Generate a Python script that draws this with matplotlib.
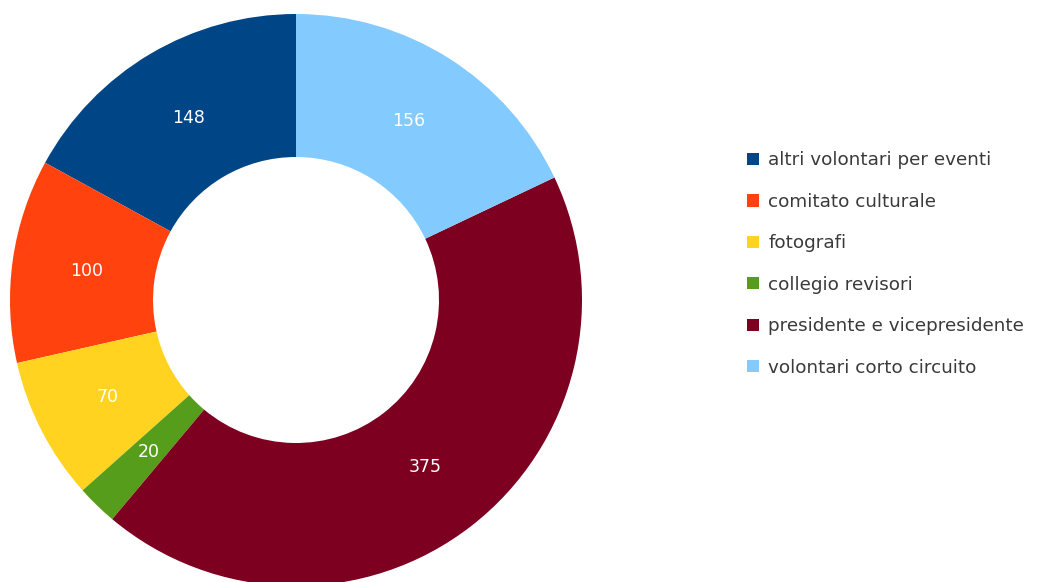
import matplotlib
matplotlib.use("Agg")
import matplotlib.pyplot as plt
import numpy as np

categories = ["altri volontari per eventi", "comitato culturale", "fotografi",
              "collegio revisori", "presidente e vicepresidente", "volontari corto circuito"]
values = [148, 100, 70, 20, 375, 156]
colors = ["#004586", "#ff420e", "#ffd320", "#579d1c", "#7e0021", "#83caff"]

plt.rcParams['font.family'] = ['DejaVu Sans']

fig = plt.figure(figsize=(10.4, 5.82), dpi=100)
ax = fig.add_axes([10 / 1040, -4 / 582, 572 / 1040, 572 / 582])

wedges, texts = ax.pie(values, colors=colors, startangle=90, counterclock=True,
                       radius=1.0, wedgeprops=dict(width=0.5, linewidth=0))

# value labels at middle of ring
for w, v in zip(wedges, values):
    ang = np.deg2rad((w.theta1 + w.theta2) / 2)
    r = 0.74
    ax.text(r * np.cos(ang), r * np.sin(ang), str(v), ha="center", va="center",
            color="white", fontsize=12.5)

ax.set_xlim(-1, 1)
ax.set_ylim(-1, 1)
ax.set_aspect("equal")
ax.axis("off")

leg = fig.legend(wedges, categories, loc="center left",
                 bbox_to_anchor=(747 / 1040, 1 - 264 / 582),
                 frameon=False, fontsize=13.2, labelspacing=1.28,
                 handlelength=0.66, handleheight=0.66, handletextpad=0.5,
                 borderpad=0, borderaxespad=0)
for t in leg.get_texts():
    t.set_color("#3a3a3a")

fig.savefig("out.png", dpi=100)
